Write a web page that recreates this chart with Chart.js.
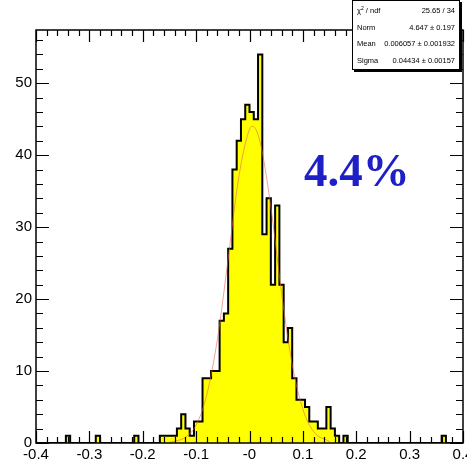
<!DOCTYPE html>
<html>
<head>
<meta charset="utf-8">
<title>resolution</title>
<script src="https://cdn.jsdelivr.net/npm/chart.js@4.4.1/dist/chart.umd.min.js"></script>
<style>
  html, body { margin: 0; padding: 0; background: #fff; }
  #wrap { position: relative; width: 467px; height: 464px; overflow: hidden; }
  #plot { display: block; }
  #stats {
    position: absolute; left: 352px; top: 0px; width: 106px; height: 67px;
    border: 1px solid #000; background: #fff; box-shadow: 2px 2px 0 #000;
    font-family: "Liberation Sans", Arial, sans-serif; font-size: 7.5px; color: #000;
    box-sizing: content-box; padding-top: 1px;
  }
  #stats .row { display: flex; justify-content: space-between; height: 16.5px; line-height: 17px; padding: 0 4px; }
  #stats sup { font-size: 5px; line-height: 0; }
  #label {
    position: absolute; left: 304px; top: 143px;
    font-family: "Liberation Serif", "Times New Roman", serif; font-weight: bold;
    font-size: 47px; color: #1f1fc8;
  }
</style>
</head>
<body>
<div id="wrap">
  <canvas id="plot" width="467" height="464"></canvas>
  <div id="stats">
    <div class="row"><span>&chi;<sup>2</sup> / ndf</span><span>25.65 / 34</span></div>
    <div class="row"><span>Norm</span><span>4.647 &plusmn; 0.197</span></div>
    <div class="row"><span>Mean</span><span>0.006057 &plusmn; 0.001932</span></div>
    <div class="row"><span>Sigma</span><span>0.04434 &plusmn; 0.00157</span></div>
  </div>
  <div id="label">4.4%</div>
</div>
<script>
// histogram: 100 bins between -0.4 and 0.4
var xLow = -0.4, xHigh = 0.4;
var counts = [
  0, 0, 0, 0, 0, 0, 0, 1, 0, 0,
  0, 0, 0, 0, 1, 0, 0, 0, 0, 0,
  0, 0, 0, 1, 0, 0, 0, 0, 0, 1,
  1, 1, 1, 2, 4, 2, 1, 3, 3, 9,
  9, 10, 10, 17, 18, 27, 38, 42, 45, 47,
  46, 45, 54, 29, 34, 22, 33, 22, 14, 16,
  9, 6, 6, 5, 3, 3, 2, 2, 5, 2,
  1, 0, 1, 0, 0, 0, 0, 0, 0, 0,
  0, 0, 0, 0, 0, 0, 0, 0, 0, 0,
  0, 0, 0, 0, 0, 1, 0, 0, 0, 0
];

// gaussian fit curve, sampled
var fitX = [-0.15, -0.12, -0.1, -0.08, -0.06, -0.04, -0.02, 0, 0.006, 0.02, 0.04, 0.06, 0.08, 0.1, 0.12, 0.15];
var fitY = [0.1, 0.8, 2.5, 6.7, 14.5, 25.6, 37, 43.6, 44, 41.8, 32.8, 20.9, 10.9, 4.7, 1.6, 0.2];

var xTickLabels = ['-0.4', '-0.3', '-0.2', '-0.1', '-0', '0.1', '0.2', '0.3', '0.4'];
var yTickLabels = ['0', '10', '20', '30', '40', '50'];
var yMax = 57.4;

var binWidth = (xHigh - xLow) / counts.length;
var histPoints = counts.map(function(c, i) { return { x: xLow + i * binWidth, y: c }; });
histPoints.push({ x: xHigh, y: counts[counts.length - 1] });

var fitPoints = fitX.map(function(x, i) { return { x: x, y: fitY[i] }; });

// frame with inward ticks on all four sides
var frameTicks = {
  id: 'frameTicks',
  afterDatasetsDraw: function(chart) {
    var c = chart.ctx, a = chart.chartArea;
    var sx = chart.scales.x, sy = chart.scales.y;
    c.save();
    c.strokeStyle = '#000';
    c.lineWidth = 1.2;
    var v, px, len, k;
    for (k = 0; k <= 40; k++) {
      v = xLow + k * 0.02;
      px = Math.round(sx.getPixelForValue(v)) + 0.5;
      len = (k % 5 === 0) ? 12 : 6;
      c.beginPath();
      c.moveTo(px, a.bottom); c.lineTo(px, a.bottom - len);
      c.moveTo(px, a.top); c.lineTo(px, a.top + len);
      c.stroke();
    }
    for (k = 0; k * 2 <= yMax; k++) {
      v = k * 2;
      px = Math.round(sy.getPixelForValue(v)) + 0.5;
      len = (k % 5 === 0) ? 13 : 7;
      c.beginPath();
      c.moveTo(a.left, px); c.lineTo(a.left + len, px);
      c.moveTo(a.right, px); c.lineTo(a.right - len, px);
      c.stroke();
    }
    c.lineWidth = 1.5;
    c.strokeRect(a.left, a.top, a.right - a.left, a.bottom - a.top);
    c.restore();
  }
};

var tickFont = { family: '"Liberation Sans", Arial, sans-serif', size: 15 };

var ctx = document.getElementById('plot').getContext('2d');
var chart = new Chart(ctx, {
  type: 'line',
  data: {
    datasets: [
      {
        label: 'fit',
        data: fitPoints,
        borderColor: 'rgba(230, 100, 80, 0.6)',
        borderWidth: 1,
        pointRadius: 0,
        cubicInterpolationMode: 'monotone',
        fill: false,
        order: 0
      },
      {
        label: 'entries',
        data: histPoints,
        stepped: true,
        borderColor: '#000',
        borderWidth: 2,
        backgroundColor: '#ffff00',
        fill: 'origin',
        pointRadius: 0,
        order: 1
      }
    ]
  },
  options: {
    responsive: false,
    animation: false,
    events: [],
    layout: { padding: { top: 30, right: 4, left: 0, bottom: 0 } },
    plugins: { legend: { display: false }, tooltip: { enabled: false } },
    scales: {
      x: {
        type: 'linear',
        min: xLow,
        max: xHigh,
        grid: { display: false, drawTicks: false },
        border: { display: false },
        ticks: {
          stepSize: 0.1,
          includeBounds: false,
          autoSkip: false,
          maxRotation: 0,
          padding: 3,
          color: '#000',
          font: tickFont,
          callback: function(v) { return xTickLabels[Math.round((v - xLow) / 0.1)]; }
        },
        afterFit: function(s) { s.height = 21; s.paddingLeft = 0; s.paddingRight = 0; }
      },
      y: {
        min: 0,
        max: yMax,
        grid: { display: false, drawTicks: false },
        border: { display: false },
        ticks: {
          stepSize: 10,
          includeBounds: false,
          padding: 4,
          color: '#000',
          font: tickFont,
          callback: function(v) { return yTickLabels[Math.round(v / 10)]; }
        },
        afterFit: function(s) { s.width = 36; s.paddingTop = 0; s.paddingBottom = 0; }
      }
    }
  },
  plugins: [frameTicks]
});
</script>
</body>
</html>
